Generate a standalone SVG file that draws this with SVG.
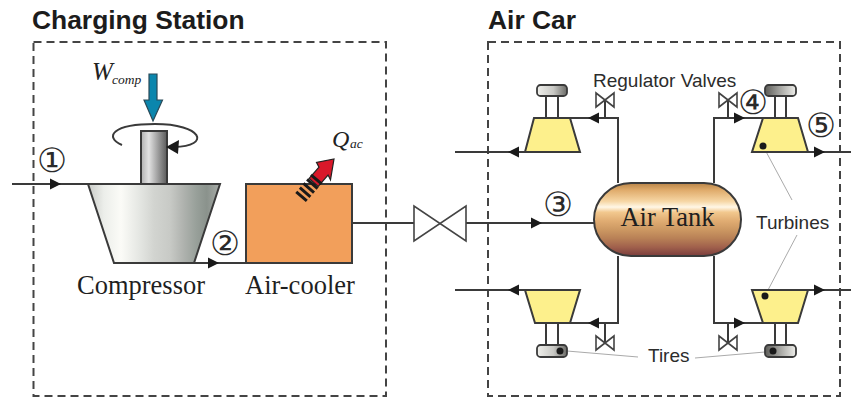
<svg xmlns="http://www.w3.org/2000/svg" width="851" height="397" viewBox="0 0 851 397">
<style>
.box{fill:none;stroke:#444;stroke-width:2;stroke-dasharray:8 5}
.pipe{fill:none;stroke:#3a3a3a;stroke-width:2}
.lead{fill:none;stroke:#aaa;stroke-width:1}
.valve{fill:#fff;stroke:#444;stroke-width:1.6}
.turb{fill:#fdf08c;stroke:#3a3a3a;stroke-width:2}
.sh{fill:#fff;stroke:#3a3a3a;stroke-width:2}
.dot{fill:#1a1a1a}
.title{font:bold 26.4px "Liberation Sans",Arial,sans-serif;fill:#1c1c1c}
.serif{font:26.5px "Liberation Serif","Times New Roman",serif;fill:#1f1f1f}
.ital{font-family:"Liberation Serif","Times New Roman",serif;font-style:italic;fill:#222}
.lab{font:19px "Liberation Sans",Arial,sans-serif;fill:#2c2c2c}
.num{font:33.500px "DejaVu Sans",sans-serif;fill:#2a2a2a;text-anchor:middle}
</style>
<defs>
<marker id="ah" markerUnits="userSpaceOnUse" markerWidth="12" markerHeight="12" refX="11" refY="6" orient="auto"><path d="M0 0.5L11 6L0 11.5z" fill="#1a1a1a"/></marker>
<linearGradient id="gComp" x1="0" x2="1" y1="0" y2="0">
<stop offset="0" stop-color="#c8cac6"/><stop offset=".12" stop-color="#eceeea"/><stop offset=".25" stop-color="#fbfbf7"/><stop offset=".38" stop-color="#e6e8e4"/><stop offset=".5" stop-color="#d2d4d0"/><stop offset=".62" stop-color="#c8cac6"/><stop offset=".72" stop-color="#b0b3af"/><stop offset=".82" stop-color="#98a09a"/><stop offset=".9" stop-color="#8a928c"/><stop offset="1" stop-color="#a8aca8"/>
</linearGradient>
<linearGradient id="gShaft" x1="0" x2="1" y1="0" y2="0">
<stop offset="0" stop-color="#b0b0b0"/><stop offset=".3" stop-color="#e2e2e2"/><stop offset=".6" stop-color="#a8a8a8"/><stop offset="1" stop-color="#5a5a5a"/>
</linearGradient>
<linearGradient id="gTank" x1="0" x2="0" y1="0" y2="1">
<stop offset="0" stop-color="#b88448"/><stop offset=".1" stop-color="#e0ac6c"/><stop offset=".25" stop-color="#f6d6a4"/><stop offset=".33" stop-color="#fff7e6"/><stop offset=".4" stop-color="#f2c88e"/><stop offset=".52" stop-color="#e0ac72"/><stop offset=".64" stop-color="#cc9862"/><stop offset=".76" stop-color="#b88056"/><stop offset=".88" stop-color="#a0604c"/><stop offset="1" stop-color="#7a3c3c"/>
</linearGradient>
<linearGradient id="gCapL" x1="0" x2="1" y1="0" y2="0"><stop offset="0" stop-color="#f0f0ec"/><stop offset=".55" stop-color="#c8c8c4"/><stop offset="1" stop-color="#6a6a66"/></linearGradient>
<linearGradient id="gCapR" x1="0" x2="1" y1="0" y2="0"><stop offset="0" stop-color="#5c5c58"/><stop offset=".5" stop-color="#a8a8a4"/><stop offset="1" stop-color="#eeeeea"/></linearGradient>
<g id="bow"><path class="valve" d="M-9 -7L-9 7L9 -7L9 7z"/></g>
</defs>

<g id="charging-station">
<rect class="box" x="33.500" y="42" width="352.500" height="354"/>
<text class="title" x="32" y="29">Charging Station</text>
</g>
<g id="air-car">
<rect class="box" x="488" y="42" width="352" height="354"/>
<text class="title" x="488" y="29">Air Car</text>
</g>

<g id="connectors">
<path class="pipe" d="M12 184H61" marker-end="url(#ah)"/><path class="pipe" d="M61 184H88"/>
<path class="pipe" d="M194 263H219" marker-end="url(#ah)"/><path class="pipe" d="M219 263H246"/>
<path class="pipe" d="M352 223H414M466 223H542" marker-end="url(#ah)"/><path class="pipe" d="M542 223H594"/>
<path class="pipe" d="M618 183V118H588" marker-end="url(#ah)"/><path class="pipe" d="M588 118H570"/>
<path class="pipe" d="M714 183V118H745" marker-end="url(#ah)"/><path class="pipe" d="M745 118H763"/>
<path class="pipe" d="M618 256V323H588" marker-end="url(#ah)"/><path class="pipe" d="M588 323H570"/>
<path class="pipe" d="M714 256V323H745" marker-end="url(#ah)"/><path class="pipe" d="M745 323H763"/>
<path class="pipe" d="M525 152H508" marker-end="url(#ah)"/><path class="pipe" d="M508 152H455"/>
<path class="pipe" d="M525 290H508" marker-end="url(#ah)"/><path class="pipe" d="M508 290H455"/>
<path class="pipe" d="M808 152H825" marker-end="url(#ah)"/><path class="pipe" d="M825 152H851"/>
<path class="pipe" d="M808 290H825" marker-end="url(#ah)"/><path class="pipe" d="M825 290H851"/>
<path class="lead" d="M763 146L792 200M797 235L768 290M567 351L638 357M695 358L765 352"/>
</g>

<g id="compressor">
<path d="M88 184H220L194 263H114z" fill="url(#gComp)" stroke="#3a3a3a" stroke-width="2"/>
<rect x="141" y="131" width="26" height="53" fill="url(#gShaft)" stroke="#3a3a3a" stroke-width="2"/>
<path class="pipe" d="M122 145C104 137 112 124 155 124C202 124 212 146 174 147"/>
<path d="M166 147L179 140L178 154z" fill="#1a1a1a"/>
<path d="M149 74H157V100H162.500L153 121L144 100H149z" fill="#0b86ad" stroke="#2a4a58" stroke-width="1.200"/>
<text class="ital" x="92" y="80" font-size="25">W</text>
<text class="ital" x="112" y="84" font-size="13.500">comp</text>
<text class="serif" x="77" y="294">Compressor</text>
</g>

<g id="air-cooler">
<rect x="246" y="184" width="106" height="79" fill="#f29f5b" stroke="#3a3a3a" stroke-width="2"/>
<g transform="translate(334 159) rotate(41)">
<path d="M0 0L11 18L6 16V31H-6V16L-11 14z" fill="#d9182a" stroke="#222" stroke-width="1.200"/>
<path d="M-7 27H7M-7 33H7M-7 38.500H7M-7 44H7M-7 49.500H7" stroke="#1a1a1a" stroke-width="3" fill="none"/>
</g>
<text class="ital" x="332" y="147" font-size="24">Q</text>
<text class="ital" x="350" y="148" font-size="13.500">ac</text>
<text class="serif" x="245" y="294">Air-cooler</text>
</g>

<g id="expansion-valve">
<path d="M414 206L414 241L466 206L466 241z" fill="#fff" stroke="#444" stroke-width="1.600"/>
</g>

<g id="air-tank">
<rect x="594" y="183" width="147" height="73" rx="37" ry="36.500" fill="url(#gTank)" stroke="#3a3a3a" stroke-width="2"/>
<text class="serif" x="667.500" y="226" text-anchor="middle">Air Tank</text>
</g>

<g id="valve-top-left"><path class="pipe" d="M605 100V118"/><use href="#bow" x="605" y="100"/></g>
<g id="valve-top-right"><path class="pipe" d="M728 100V118"/><use href="#bow" x="728" y="100"/></g>
<g id="valve-bottom-left"><path class="pipe" d="M605 323V343"/><use href="#bow" x="605" y="343"/></g>
<g id="valve-bottom-right"><path class="pipe" d="M728 323V343"/><use href="#bow" x="728" y="343"/></g>

<g id="turbine-top-left">
<path class="sh" d="M546 96V118M558 96V118"/>
<rect x="537" y="85" width="30" height="11" rx="3.500" fill="url(#gCapL)" stroke="#3a3a3a" stroke-width="1.800"/>
<path class="turb" d="M534 118H570L580 152H525z"/>
</g>
<g id="turbine-top-right">
<path class="sh" d="M775 96V118M786 96V118"/>
<rect x="765" y="85" width="31" height="11" rx="3.500" fill="url(#gCapR)" stroke="#3a3a3a" stroke-width="1.800"/>
<path class="turb" d="M763 118H798L808 152H752z"/>
<circle class="dot" cx="763" cy="146" r="3.500"/>
</g>
<g id="turbine-bottom-left">
<path class="sh" d="M546 323V345M558 323V345"/>
<rect x="537" y="345" width="30" height="12" rx="3.500" fill="url(#gCapL)" stroke="#3a3a3a" stroke-width="1.800"/>
<path class="turb" d="M525 290H580L570 323H535z"/>
<circle class="dot" cx="560" cy="351" r="3.500"/>
</g>
<g id="turbine-bottom-right">
<path class="sh" d="M775 323V345M786 323V345"/>
<rect x="765" y="345" width="31" height="12" rx="3.500" fill="url(#gCapR)" stroke="#3a3a3a" stroke-width="1.800"/>
<path class="turb" d="M752 290H808L798 323H763z"/>
<circle class="dot" cx="765" cy="296" r="3.500"/>
<circle class="dot" cx="773" cy="351" r="3.500"/>
</g>

<g id="labels">
<text class="lab" x="593" y="87">Regulator Valves</text>
<text class="lab" x="756" y="229">Turbines</text>
<text class="lab" x="648" y="362">Tires</text>
<text class="num" x="52" y="172">①</text>
<text class="num" x="225" y="255">②</text>
<text class="num" x="558" y="216">③</text>
<text class="num" x="753" y="114">④</text>
<text class="num" x="821" y="137">⑤</text>
</g>
</svg>
